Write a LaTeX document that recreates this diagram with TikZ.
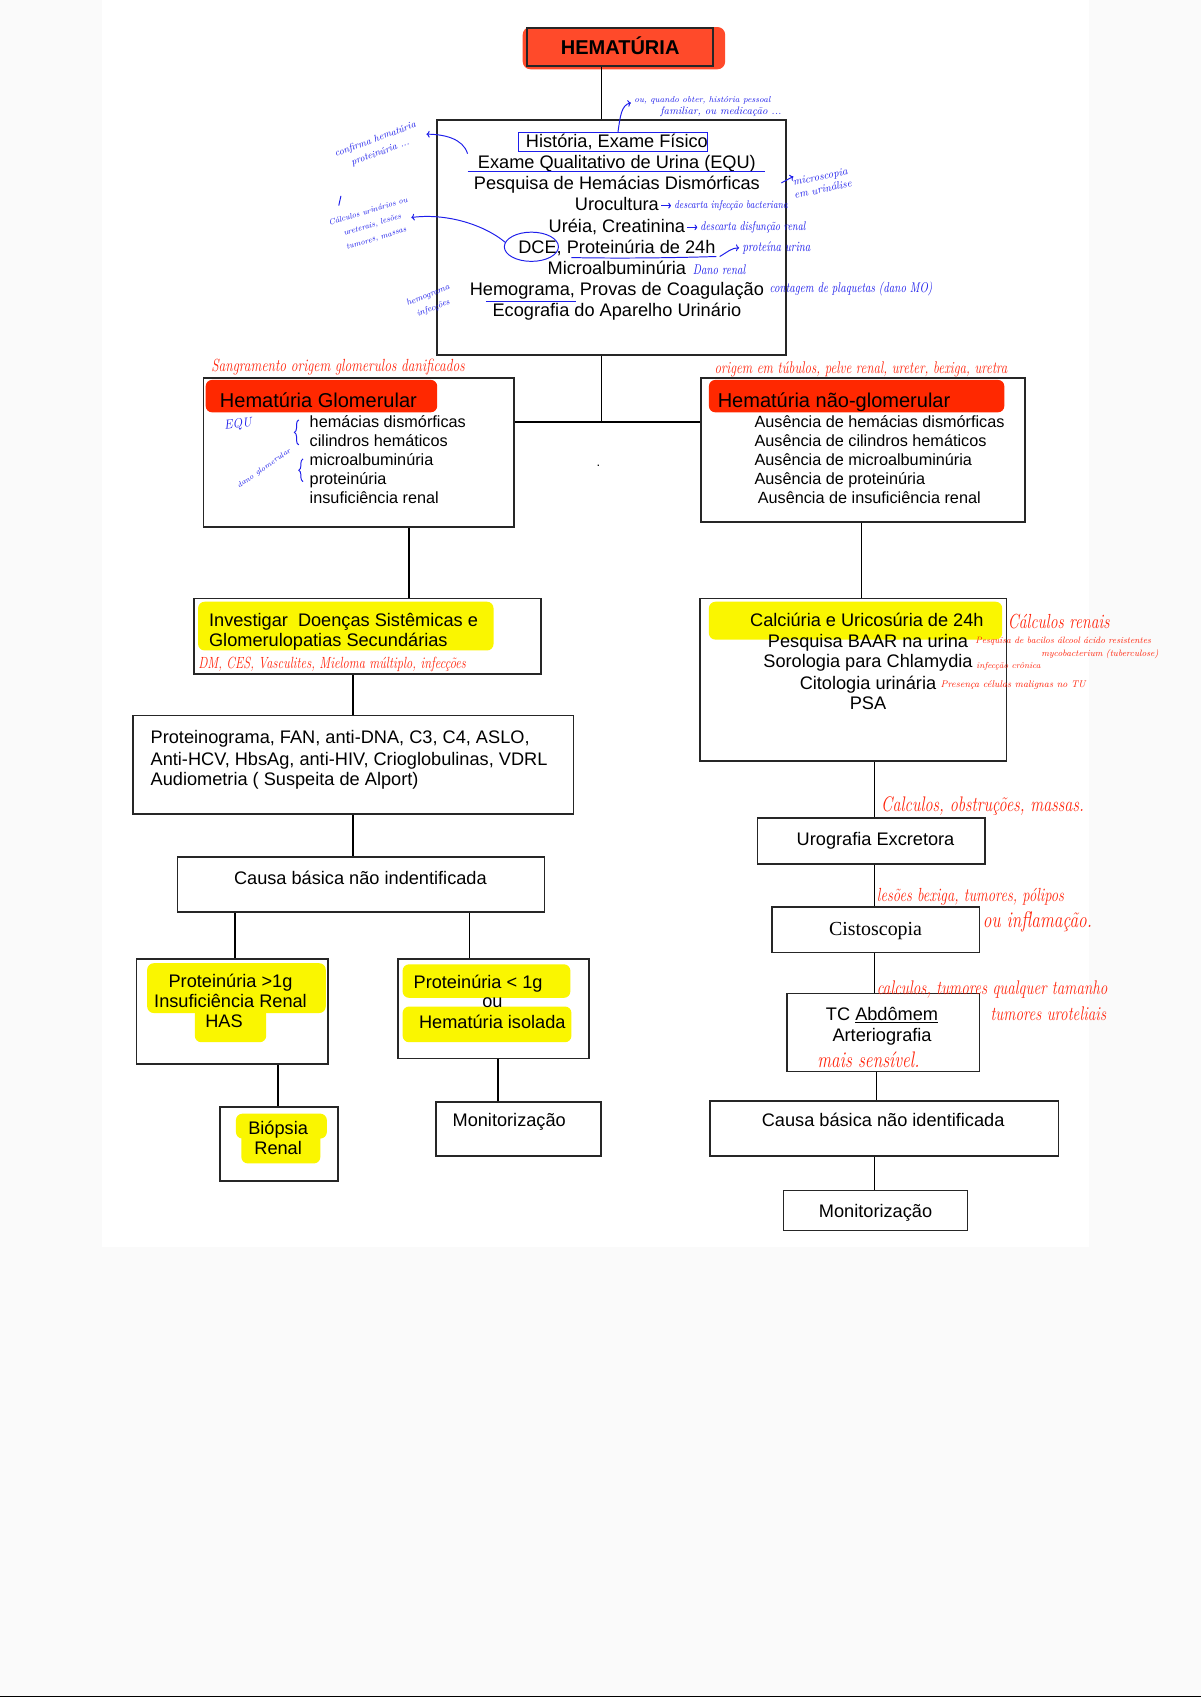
\documentclass[tikz,border=0pt]{standalone}
\usepackage{fontspec}
\setsansfont{Liberation Sans}
\newfontfamily\timesf{Liberation Serif}
\usetikzlibrary{arrows.meta,decorations.pathreplacing}
\definecolor{bggray}{RGB}{250,250,250}
\definecolor{hemred}{RGB}{255,74,42}
\definecolor{hlred}{RGB}{255,40,0}
\definecolor{hlyel}{RGB}{250,246,0}
\definecolor{inkblue}{RGB}{30,30,235}
\definecolor{inkred}{RGB}{255,35,10}
\newcommand\hsz[1]{\fontsize{#1}{#1}\selectfont}
\tikzset{
  box/.style={draw=black!85, line width=1.6pt, inner sep=0pt},
  conn/.style={line width=1.3pt, black},
  txt/.style={font=\sffamily\fontsize{16.8}{19.5}\selectfont, inner sep=0pt, anchor=base},
  txtw/.style={txt, anchor=base west},
  sml/.style={font=\sffamily\fontsize{15}{17}\selectfont, inner sep=0pt, anchor=base west},
  ttl/.style={font=\sffamily\fontsize{18.5}{20}\selectfont, inner sep=0pt, anchor=base west},
  hand/.style={font=\rmfamily\itshape, inner sep=0pt, anchor=west},
  tall/.style={yscale=1.3},
  bink/.style={hand, text=inkblue},
  rink/.style={hand, text=inkred},
  bpen/.style={inkblue, line width=0.9pt},
  rpen/.style={inkred, line width=0.9pt},
  hlbox/.style={rounded corners=6pt},
}
\begin{document}
\begin{tikzpicture}[x=1pt,y=-1pt]
\useasboundingbox (0,0) rectangle (1110,1568);
\fill[bggray] (0,0) rectangle (1110,1568);
\fill[white] (94,0) rectangle (1006,1152);
\draw[black, line width=1.2pt] (0,1567.4) -- (1110,1567.4);

% highlights
\fill[hemred, rounded corners=7pt] (483,25) rectangle (670,64);
\fill[hlred, hlbox] (190,351) rectangle (404,381);
\fill[hlred, hlbox] (655,351) rectangle (928,381);
\fill[hlyel, hlbox] (183,556) rectangle (456,601);
\fill[hlyel, hlbox] (655,556) rectangle (926,591);
\fill[hlyel, hlbox] (136,890) rectangle (301,936);
\fill[hlyel, hlbox] (180,930) rectangle (246,963);
\fill[hlyel, hlbox] (372,891) rectangle (527,922);
\fill[hlyel, hlbox] (372,930) rectangle (528,963);
\fill[hlyel, hlbox] (218,1029) rectangle (302,1052);
\fill[hlyel, hlbox] (223,1046) rectangle (296,1075);

% boxes
\node[box, minimum width=172pt, minimum height=35pt, text height=13.2pt, text depth=0pt,
      font=\sffamily\bfseries\fontsize{18.5}{20}\selectfont] (hem) at (573,43.5) {HEMATÚRIA};
\node[box, minimum width=322pt, minimum height=217pt] (b2) at (565,219.5) {};
\node[box, minimum width=287pt, minimum height=138pt] (glom) at (331.5,418) {};
\node[box, minimum width=299pt, minimum height=133pt] (ngl) at (797.5,415.5) {};
\node[box, minimum width=321pt, minimum height=70pt] (inv) at (339.5,588) {};
\node[box, minimum width=407pt, minimum height=91pt] (prot) at (326.5,706.5) {};
\node[box, minimum width=339pt, minimum height=51pt] (causaL) at (333.5,817.5) {};
\node[box, minimum width=177pt, minimum height=97pt] (p1) at (214.5,934.5) {};
\node[box, minimum width=176pt, minimum height=92pt] (p2) at (456,932) {};
\node[box, minimum width=109pt, minimum height=68pt] (bio) at (257.5,1057) {};
\node[box, minimum width=152pt, minimum height=50pt] (monL) at (479,1043) {};
\node[box, minimum width=283pt, minimum height=150pt] (calc) at (788.5,628) {};
\node[box, minimum width=210pt, minimum height=42pt] (uro) at (805,777) {};
\node[box, minimum width=192pt, minimum height=42pt] (cis) at (809,859) {};
\node[box, minimum width=178pt, minimum height=72pt] (tc) at (816,954) {};
\node[box, minimum width=322pt, minimum height=51pt] (causaR) at (817,1042.5) {};
\node[box, minimum width=170pt, minimum height=37pt] (monR) at (809,1118.5) {};

% connector x positions
\coordinate (xA) at (556,0);
\coordinate (jn) at (556,390);
\coordinate (xB) at (378,0);
\coordinate (xC) at (326,0);
\coordinate (xD) at (217,0);
\coordinate (xE) at (434,0);
\coordinate (xF) at (257,0);
\coordinate (xG) at (460,0);
\coordinate (xH) at (796,0);
\coordinate (xI) at (808,0);
\coordinate (xJ) at (810,0);

\draw[conn] (hem.south -| xA) -- (b2.north -| xA);
\draw[conn] (b2.south -| xA) -- (jn);
\draw[conn] (glom.east |- jn) -- (ngl.west |- jn);
\draw[conn] (glom.south -| xB) -- (inv.north -| xB);
\draw[conn] (inv.south -| xC) -- (prot.north -| xC);
\draw[conn] (prot.south -| xC) -- (causaL.north -| xC);
\draw[conn] (causaL.south -| xD) -- (p1.north -| xD);
\draw[conn] (causaL.south -| xE) -- (p2.north -| xE);
\draw[conn] (p1.south -| xF) -- (bio.north -| xF);
\draw[conn] (p2.south -| xG) -- (monL.north -| xG);
\draw[conn] (ngl.south -| xH) -- (calc.north -| xH);
\draw[conn] (calc.south -| xI) -- (uro.north -| xI);
\draw[conn] (uro.south -| xI) -- (cis.north -| xI);
\draw[conn] (cis.south -| xI) -- (tc.north -| xI);
\draw[conn] (tc.south -| xJ) -- (causaR.north -| xJ);
\draw[conn] (causaR.south -| xI) -- (monR.north -| xI);

% main box text
\foreach \s [count=\i from 0] in {{História, Exame Físico},{Exame Qualitativo de Urina (EQU)},{Pesquisa de Hemácias Dismórficas},{Urocultura},{Uréia, Creatinina},{DCE, Proteinúria de 24h},{Microalbuminúria},{Hemograma, Provas de Coagulação},{Ecografia do Aparelho Urinário}}
  \node[txt] (m\i) at (570,{136+19.6*\i}) {\s};

% glomerular
\node[ttl] (gt) at (203,376.6) {Hematúria Glomerular};
\foreach \s [count=\i from 0] in {hemácias dismórficas,cilindros hemáticos,microalbuminúria,proteinúria,insuficiência renal}
  \node[sml] (g\i) at (286,{395.4+17.5*\i}) {\s};
\node[ttl] (nt) at (663,376.6) {Hematúria não-glomerular};
\foreach \s [count=\i from 0] in {Ausência de hemácias dismórficas,Ausência de cilindros hemáticos,Ausência de microalbuminúria,Ausência de proteinúria}
  \node[sml] (n\i) at (697,{395.4+17.5*\i}) {\s};
\node[sml] (n4) at (700,465.4) {Ausência de insuficiência renal};
\node[font=\sffamily\fontsize{12}{12}\selectfont, inner sep=0pt] (dot) at (553,430) {.};

% left column
\node[txtw] (iv1) at (193,579) {Investigar\ \ Doenças Sistêmicas e};
\node[txtw] (iv2) at (193,597) {Glomerulopatias Secundárias};
\node[txtw] (pr1) at (139,687) {Proteinograma, FAN, anti-DNA, C3, C4, ASLO,};
\node[txtw] (pr2) at (139,707) {Anti-HCV, HbsAg, anti-HIV, Crioglobulinas, VDRL};
\node[txtw] (pr3) at (139,726) {Audiometria ( Suspeita de Alport)};
\node[txt] (cl) at (333,817) {Causa básica não indentificada};
\node[txt] (q1) at (213,912) {Proteinúria >1g};
\node[txt] (q2) at (213,931) {Insuficiência Renal};
\node[txt] (q3) at (207,949) {HAS};
\node[txtw] (r1) at (382,913) {Proteinúria < 1g};
\node[txt] (r2) at (455,931) {ou};
\node[txtw] (r3) at (387,950) {Hematúria isolada};
\node[txt] (bi1) at (257,1048) {Biópsia};
\node[txt] (bi2) at (257,1067) {Renal};
\node[txtw] (ml) at (418,1041) {Monitorização};

% right column
\node[txt] (c1) at (801,579) {Calciúria e Uricosúria de 24h};
\node[txt] (c2) at (802,598) {Pesquisa BAAR na urina};
\node[txt] (c3) at (802,617) {Sorologia para Chlamydia};
\node[txt] (c4) at (802,637) {Citologia urinária};
\node[txt] (c5) at (802,656) {PSA};
\node[txt] (ur) at (809,781) {Urografia Excretora};
\node[font=\timesf\fontsize{18.4}{20}\selectfont, inner sep=0pt, anchor=base] (ci) at (809,864) {Cistoscopia};
\node[txt] (tc1) at (815,943) {TC \underline{Abdômem}};
\node[txt] (tc2) at (815,962) {Arteriografia};
\node[txt] (cr) at (816,1041) {Causa básica não identificada};
\node[txt] (mr) at (809,1125) {Monitorização};

% ---------- blue annotations ----------
\draw[bpen] (479,122) rectangle (654,140);
\draw[bpen] (432,158) -- (707,158);
\draw[bpen] (491,228) ellipse [x radius=25pt, y radius=13.5pt];
\draw[bpen] (528,238) .. controls (580,239) and (630,238) .. (662,237);
\draw[bpen] (449,279) -- (532,279);
\draw[bpen, -{To[length=3pt]}] (571,122) .. controls (573,108) and (574,97) .. (583,95);
\node[bink, anchor=north west, align=left] (a1) at (586,89) {\hsz{8}ou, quando obter, história pessoal\\[-1pt]\hspace*{24pt}familiar, ou medicação ...};
\draw[bpen, -{To[length=3pt]}] (432,142) .. controls (428,128) and (410,124) .. (394,124);
\node[bink, rotate=20, anchor=center, align=center] (a2) at (349,135) {\hsz{9}confirma hematúria\\[1pt]\hsz{9}proteinúria ...};
\draw[bpen, -{To[length=3pt]}] (722,169) -- (733,163);
\node[bink, rotate=12, anchor=center, align=center] (a3) at (759,169) {\hsz{10}microscopia\\[0pt]\hsz{10}em urinálise};
\draw[bpen, -{To[length=2.5pt]}] (m3.east |- 0,190) ++(2,0) -- ++(9,0);
\node[bink, tall] (a4) at (623,190) {\hsz{8}descarta infecção bacteriana};
\draw[bpen, -{To[length=2.5pt]}] (m4.east |- 0,210) ++(2,0) -- ++(9,0);
\node[bink, tall] (a5) at (647,210) {\hsz{9}descarta disfunção renal};
\draw[bpen, -{To[length=3pt]}] (665,237) .. controls (672,233) and (676,229) .. (683,229);
\node[bink, tall] (a6) at (686,229) {\hsz{10}proteína urina};
\node[bink, tall] (a7) at (640,249) {\hsz{10}Dano renal};
\node[bink, tall] (a8) at (711,267) {\hsz{10}contagem de plaquetas (dano MO)};
\draw[bpen, -{To[length=3pt]}] (467,224) .. controls (445,206) and (410,197) .. (380,201);
\draw[bpen] (315,181) -- (313,190);
\node[bink, rotate=17, anchor=center, align=center] (a9) at (344,208) {\hsz{7.5}Cálculos urinários ou\\[1pt]\hsz{7.5}ureterais, lesões\\[1pt]\hsz{7.5}tumores, massas};
\node[bink, rotate=22, anchor=center, align=center] (a10) at (398,279) {\hsz{8}hemograma\\[1pt]\hsz{8}infecções};
\node[bink, rotate=8] (a11) at (207,394) {\hsz{12}EQU};
\node[bink, rotate=35, anchor=center] (a12) at (244,433) {\hsz{7}dano glomerular};
\draw[bpen, decorate, decoration={brace, amplitude=4pt}] (276,411) -- (276,388);
\draw[bpen, decorate, decoration={brace, amplitude=4pt}] (280,445) -- (280,424);

% ---------- red annotations ----------
\node[rink, tall] (b1) at (195,339) {\hsz{12.5}Sangramento origem glomerulos danificados};
\node[rink, tall] (b2a) at (660,341) {\hsz{12}origem em túbulos, pelve renal, ureter, bexiga, uretra};
\node[rink, tall] (b3) at (183,614) {\hsz{11.5}DM, CES, Vasculites, Mieloma múltiplo, infecções};
\node[rink, tall] (b4) at (931,574) {\hsz{14.5}Cálculos renais};
\node[rink] (b5) at (901,592) {\hsz{8.5}Pesquisa de bacilos álcool ácido resistentes};
\node[rink] (b6) at (962,604) {\hsz{8.5}mycobacterium (tuberculose)};
\node[rink] (b7) at (902,616) {\hsz{8}infecção crônica};
\node[rink] (b8) at (869,633) {\hsz{9}Presença células malignas no TU};
\node[rink, tall] (b9) at (814,745) {\hsz{15}Calculos, obstruções, massas.};
\node[rink, tall] (b10) at (810,829) {\hsz{13.5}lesões bexiga, tumores, pólipos};
\node[rink, tall] (b11) at (908,852) {\hsz{16}ou inflamação.};
\node[rink, tall] (b12) at (810,914) {\hsz{14}calculos, tumores qualquer tamanho};
\node[rink, tall] (b13) at (915,937) {\hsz{14}tumores uroteliais};
\node[rink, tall] (b14) at (755,979) {\hsz{16}mais sensível.};
\end{tikzpicture}
\end{document}
